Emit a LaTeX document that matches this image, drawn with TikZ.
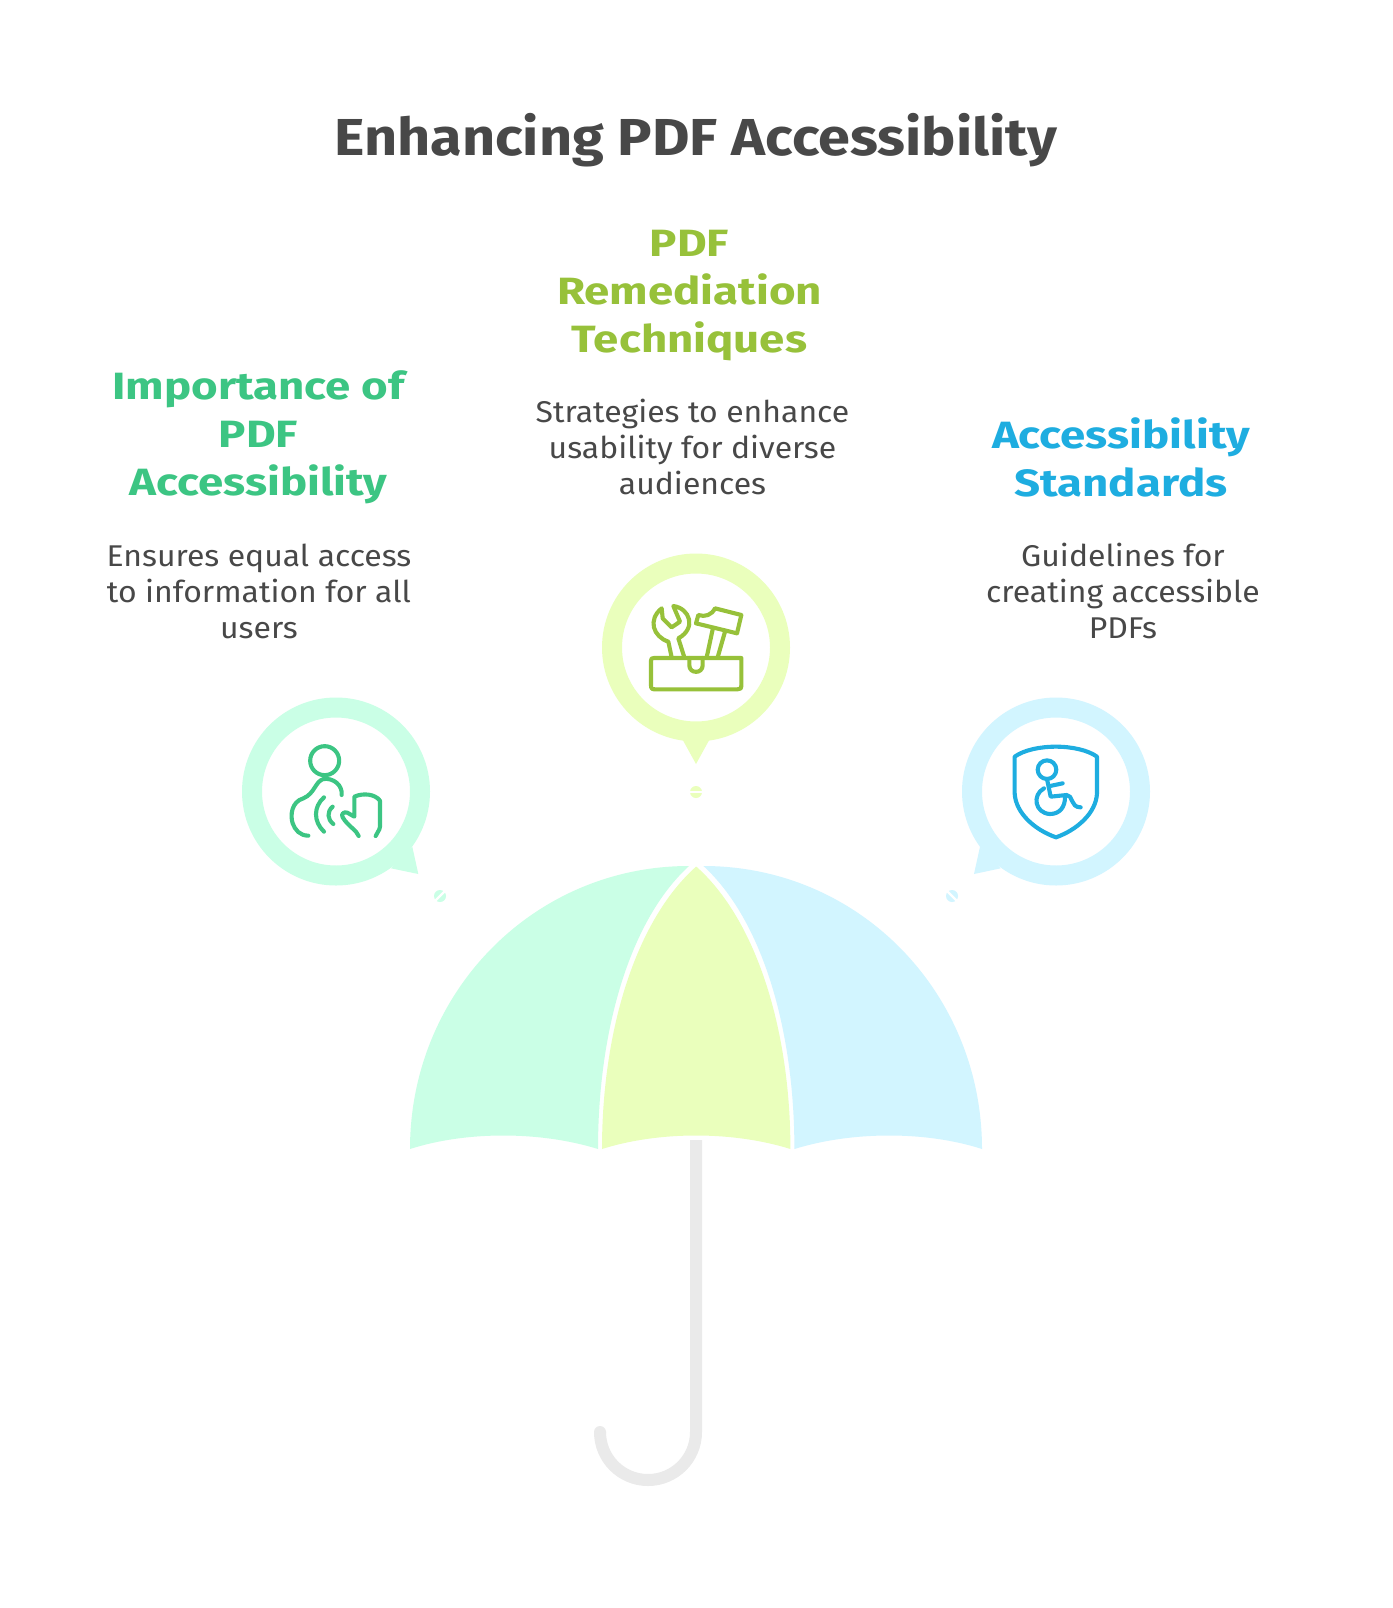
\documentclass[tikz,border=0pt]{standalone}
\usepackage{fontspec}
\setmainfont{Fira Sans}
\newfontfamily\titlefam[FakeStretch=1.108]{Fira Sans}
\newfontfamily\headfam[FakeStretch=1.2]{Fira Sans}
\newfontfamily\bodyfam[FakeStretch=1.065]{Fira Sans}
\definecolor{ink}{HTML}{484848}
\definecolor{greenS}{HTML}{3CC583}
\definecolor{greenL}{HTML}{CAFFE6}
\definecolor{limeS}{HTML}{97C13A}
\definecolor{limeL}{HTML}{EAFFBC}
\definecolor{blueS}{HTML}{1EADE0}
\definecolor{blueL}{HTML}{D2F5FF}
\definecolor{shaft}{HTML}{EAEAEA}
\tikzset{
  titletext/.style={text=ink,font=\titlefam\fontsize{52}{60}\selectfont\bfseries,align=center,inner sep=0},
  headtext/.style={font=\headfam\fontsize{38}{48}\selectfont\bfseries,align=center,inner sep=0},
  bodytext/.style={text=ink,font=\bodyfam\fontsize{30}{36}\selectfont,align=center,inner sep=0},
  iconline/.style={line width=4.1pt,line cap=round,line join=round},
}
\begin{document}
\begin{tikzpicture}[x=1pt,y=-1pt]
\useasboundingbox (0,0) rectangle (1392,1608);
\fill[white] (0,0) rectangle (1392,1608);
% title and texts
\node[titletext] (title) at (696,140) {Enhancing PDF Accessibility};
\node[headtext,text=greenS] (h1) at (258.5,437) {Importance of\\PDF\\Accessibility};
\node[bodytext] (b1) at (259,591) {Ensures equal access\\to information for all\\users};
\node[headtext,text=limeS] (h2) at (689.5,296) {PDF\\Remediation\\Techniques};
\node[bodytext] (b2) at (692.5,447) {Strategies to enhance\\usability for diverse\\audiences};
\node[headtext,text=blueS] (h3) at (1121,457) {Accessibility\\Standards};
\node[bodytext] (b3) at (1123,591) {Guidelines for\\creating accessible\\PDFs};
% umbrella canopy
\fill[greenL] (410,1149) .. controls (410,993) and (533,866) .. (689,866)
  .. controls (630,920) and (598,1030) .. (598,1149)
  .. controls (540,1131) and (466,1131) .. (410,1149) -- cycle;
\fill[limeL] (602,1149) .. controls (602,1030) and (636,920) .. (696.2,866.5)
  .. controls (756.4,920) and (790.4,1030) .. (790.4,1149)
  .. controls (733,1131) and (659,1131) .. (602,1149) -- cycle;
\fill[blueL] (982,1149) .. controls (982,993) and (859.4,866) .. (703.4,866)
  .. controls (762.4,920) and (794.4,1030) .. (794.4,1149)
  .. controls (852.4,1131) and (926.4,1131) .. (982,1149) -- cycle;
% handle
\draw[shaft,line width=12pt] (696,1140) -- (696,1432) arc[start angle=0,end angle=90,radius=48]
  arc[start angle=90,end angle=180,radius=48];
\fill[shaft] (600,1432) circle (6);
% bubbles
\fill[greenL] (412.3,846.7) -- (418.3,874) -- (391,868.3) -- cycle;
\draw[greenL,line width=20pt] (336,791.5) circle (84);
\fill[limeL] (681.7,738) -- (696,764) -- (710.3,738) -- cycle;
\draw[limeL,line width=20pt] (696,647.5) circle (84);
\fill[blueL] (980,846.7) -- (974,874) -- (1000.7,868.3) -- cycle;
\draw[blueL,line width=20pt] (1056,791.5) circle (84);
% dots
\fill[greenL] (440,896) circle (6);
\draw[white,line width=2.4pt] (433,903) -- (447,889);
\fill[limeL] (696,792) circle (6);
\draw[white,line width=2.4pt] (688,792) -- (704,792);
\fill[blueL] (952,896) circle (6);
\draw[white,line width=2.4pt] (945,889) -- (959,903);
% icon 1
\begin{scope}[shift={(220,680)},x=1pt/3,y=-1pt/3,iconline,draw=greenS]
\draw (314,242) circle[radius=14.5pt];
\draw (365,345) .. controls (368,315) and (340,293) .. (310,297)
  .. controls (285,305) and (285,340) .. (250,355)
  .. controls (215,365) and (210,405) .. (218,430)
  .. controls (225,450) and (240,467) .. (265,467);
\draw (312,352) .. controls (280,380) and (280,425) .. (312,455);
\draw (338,380) .. controls (320,395) and (322,418) .. (340,432);
\draw (416,468) .. controls (410,450) and (385,440) .. (368,412)
  .. controls (362,402) and (372,394) .. (382,398)
  -- (403,410) -- (403,350)
  .. controls (430,338) and (465,342) .. (480,362)
  -- (480,440) .. controls (479,452) and (470,458) .. (467,468);
\end{scope}
% icon 2
\begin{scope}[shift={(590,540)},x=1pt/3,y=-1pt/3,iconline,draw=limeS]
\draw (192,354) .. controls (185,354) and (183,356) .. (183,362) -- (183,436)
  .. controls (183,446) and (186,448) .. (196,448) -- (442,448)
  .. controls (451,448) and (454,446) .. (454,436) -- (454,354) -- cycle;
\draw (298,354) -- (298,376) .. controls (298,402) and (338,402) .. (338,376) -- (338,354);
\draw (245,352) -- (235,305) .. controls (190,290) and (172,240) .. (215,205)
  -- (218,235) -- (245,262) -- (270,245) -- (250,198)
  .. controls (300,205) and (320,265) .. (265,295) -- (283,352);
\draw (350,352) -- (368,268);
\draw (383,352) -- (405,275);
\draw (375,205) -- (454,225) -- (441,280) -- (318,250) -- (325,225)
  .. controls (345,232) and (365,225) .. (375,205) -- cycle;
\end{scope}
% icon 3
\begin{scope}[shift={(930,680)},x=1pt/3,y=-1pt/3,iconline,draw=blueS]
\draw (254,230) .. controls (310,190) and (445,190) .. (501,230) -- (501,340)
  .. controls (498,400) and (440,450) .. (378,472)
  .. controls (315,450) and (257,400) .. (254,340) -- cycle;
\draw (351,269) circle[radius=9.3pt];
\draw (351,297) -- (362,350) -- (410,345) .. controls (430,345) and (420,382) .. (452,382);
\draw (360,318) -- (398,310);
\draw (342,325) .. controls (305,345) and (315,400) .. (360,402)
  .. controls (390,402) and (405,380) .. (405,352);
\end{scope}
\end{tikzpicture}
\end{document}
